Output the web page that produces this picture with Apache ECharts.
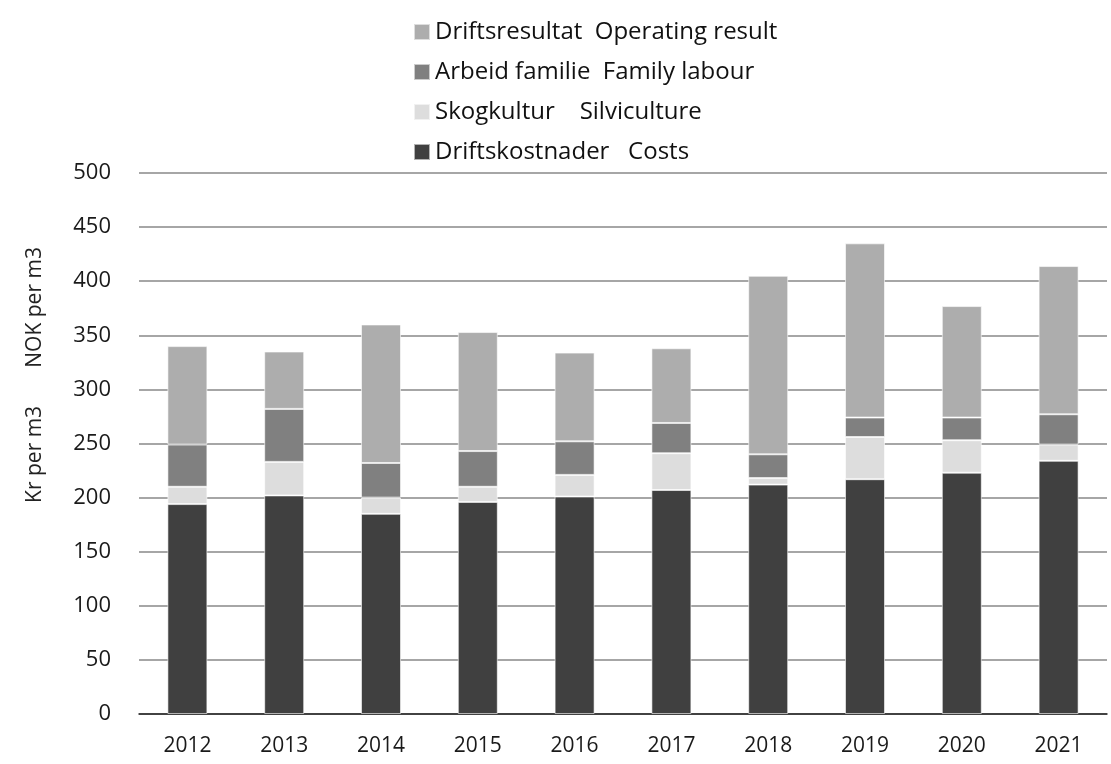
<!DOCTYPE html>
<html lang="en">
<head>
    <meta charset="UTF-8">
    <title>Kr per m3</title>
    <script src="https://cdn.jsdelivr.net/npm/echarts@6/dist/echarts.min.js"></script>
</head>
<body style="margin:0">
    <div id="chart" style="width:1111px;height:764px;"></div>
<script>
    // data
    var years = ['2012', '2013', '2014', '2015', '2016', '2017', '2018', '2019', '2020', '2021'];
    var costs = [194, 202, 185, 196, 201, 207, 212, 217, 223, 234];
    var silviculture = [16, 31, 15, 14, 20, 34, 6, 39, 30, 15];
    var familyLabour = [39, 49, 32, 33, 31, 28, 22, 18, 21, 28];
    var operatingResult = [91, 53, 128, 110, 82, 69, 165, 161, 103, 137];
    var yTicks = [0, 50, 100, 150, 200, 250, 300, 350, 400, 450, 500];

    var font = '"Open Sans", Lato, sans-serif';
    var chart = echarts.init(document.getElementById('chart'));

    function bar(name, data, color) {
        return {
            name: name,
            type: 'bar',
            stack: 'total',
            barWidth: 40,
            data: data,
            itemStyle: { color: color, borderColor: 'rgba(255,255,255,0.6)', borderWidth: 1 }
        };
    }

    chart.setOption({
        animation: false,
        backgroundColor: '#fff',
        legend: {
            orient: 'vertical',
            left: 408,
            top: 15,
            itemWidth: 16,
            itemHeight: 16,
            itemGap: 16,
            icon: 'rect',
            textStyle: { fontFamily: font, fontSize: 24, color: '#111' },
            data: ['Driftsresultat  Operating result', 'Arbeid familie  Family labour',
                   'Skogkultur    Silviculture', 'Driftskostnader   Costs']
        },
        graphic: [{
            type: 'text',
            x: 35,
            y: 375,
            rotation: Math.PI / 2,
            style: {
                text: 'Kr per m3       NOK per m3',
                fontFamily: font,
                fontSize: 21,
                fill: '#222',
                textAlign: 'center',
                textVerticalAlign: 'middle'
            }
        }],
        grid: { left: 139, right: 4, top: 173, bottom: 50 },
        xAxis: {
            type: 'category',
            data: years,
            axisLine: { lineStyle: { color: '#222', width: 1.5 } },
            axisTick: { length: 10, lineStyle: { color: '#222' } },
            axisLabel: { fontFamily: font, fontSize: 21, color: '#1a1a1a', margin: 22 }
        },
        yAxis: {
            type: 'value',
            min: yTicks[0],
            max: yTicks[yTicks.length - 1],
            interval: 50,
            axisLine: { show: false },
            axisTick: { show: false },
            axisLabel: { fontFamily: font, fontSize: 22, color: '#1a1a1a', margin: 28 },
            splitLine: { lineStyle: { color: '#a6a6a6', width: 2 } }
        },
        series: [
            bar('Driftskostnader   Costs', costs, '#404040'),
            bar('Skogkultur    Silviculture', silviculture, '#dddddd'),
            bar('Arbeid familie  Family labour', familyLabour, '#808080'),
            bar('Driftsresultat  Operating result', operatingResult, '#adadad')
        ]
    });
</script>
</body>
</html>
